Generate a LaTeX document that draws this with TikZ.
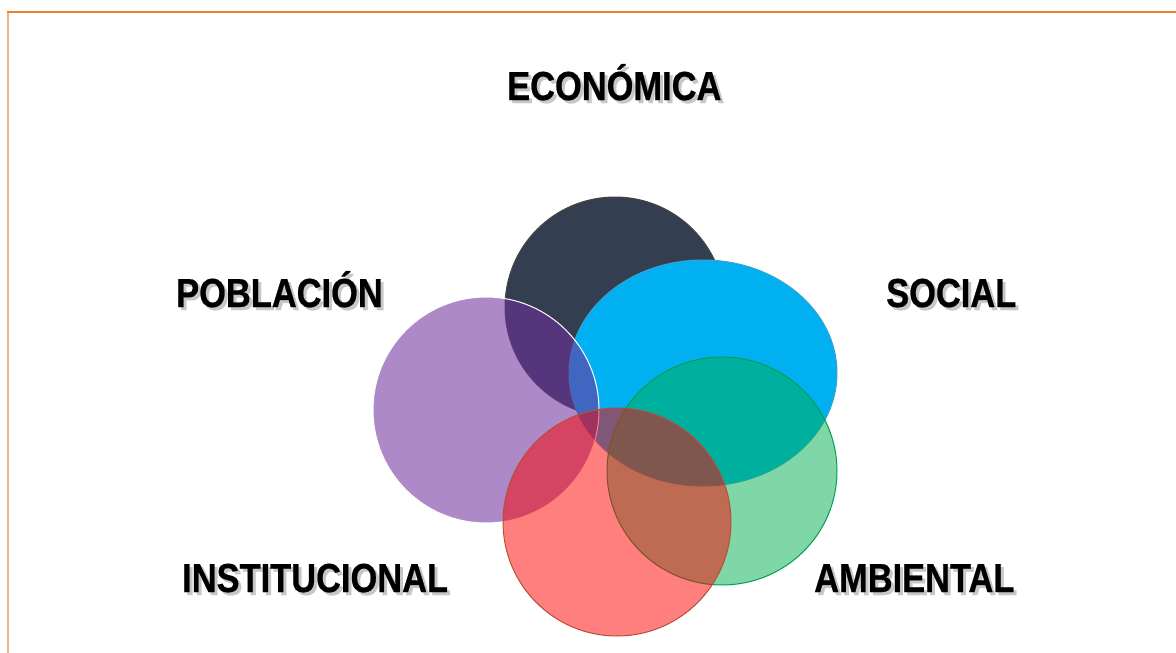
\documentclass[tikz,border=0pt]{standalone}
\usepackage{fontspec}
\newfontfamily\labfont{Liberation Sans Bold}[FakeStretch=0.85,FakeBold=0.6]
\definecolor{navyc}{HTML}{333F50}
\definecolor{navyline}{HTML}{4A4446}
\definecolor{bluec}{HTML}{00B0F0}
\definecolor{blueline}{HTML}{3FA0D0}
\definecolor{purplec}{HTML}{7030A0}
\definecolor{greenc}{HTML}{00B050}
\definecolor{greenline}{HTML}{00A050}
\definecolor{redc}{HTML}{FF0000}
\definecolor{redline}{HTML}{B5503A}
\definecolor{topline}{HTML}{ED7D31}
\definecolor{leftline}{HTML}{F4B183}
\newcommand\shadowed[1]{%
  \makebox[0pt][l]{\hspace{3pt}\raisebox{-3pt}{\textcolor{black!22}{#1}}}%
  #1}
\begin{document}
\begin{tikzpicture}[x=1pt,y=-1pt,
  lab/.style={font=\labfont\fontsize{40.5}{42}\selectfont, inner sep=0pt, anchor=base west, text=black},
  blob/.style={line width=1pt}]
\useasboundingbox (0,0) rectangle (1176,653);
\fill[white] (0,0) rectangle (1176,653);
% frame
\draw[leftline, line width=2pt] (8,12) -- (8,653);
\draw[topline, line width=2.2pt] (7,12) -- (1176,12);
% circles
\path[blob, fill=navyc, draw=navyline] (615,307) circle[radius=110];
\path[blob, fill=bluec, draw=blueline] (703,373) ellipse[x radius=134, y radius=113];
\path[blob, fill=purplec, fill opacity=0.57, draw=white] (486,410) circle[radius=113];
\path[blob, fill=greenc, fill opacity=0.5, draw=greenline] (722,471) ellipse[x radius=115, y radius=114];
\path[blob, fill=redc, fill opacity=0.5, draw=redline] (617,522) circle[radius=114];
% labels
\node[lab] (eco) at (507,100) {\shadowed{ECONÓMICA}};
\node[lab] (pob) at (176,307) {\shadowed{POBLACIÓN}};
\node[lab] (soc) at (886,307) {\shadowed{SOCIAL}};
\node[lab] (ins) at (182,592) {\shadowed{INSTITUCIONAL}};
\node[lab] (amb) at (814,592) {\shadowed{AMBIENTAL}};
\end{tikzpicture}
\end{document}
